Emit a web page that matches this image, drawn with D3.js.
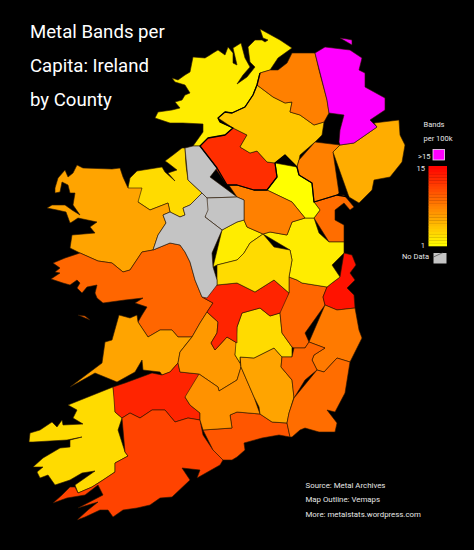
<!DOCTYPE html>
<html>
<head>
<meta charset="utf-8">
<title>Metal Bands per Capita: Ireland by County</title>
<script src="https://d3js.org/d3.v7.min.js"></script>
<style>
  html, body { margin: 0; padding: 0; background: #000; }
  svg { display: block; font-family: Roboto, sans-serif; }
</style>
</head>
<body>
<svg id="chart" width="474" height="550"></svg>
<script>
// Bands per 100k. null = no data, 16 stands for ">15"
const countyNames = ['Donegal', 'Sligo', 'Mayo', 'Galway', 'Clare', 'Kerry', 'Limerick', 'Cork', 'Waterford',
  'North Tipperary', 'South Tipperary', 'Kilkenny', 'Laois', 'Offaly', 'Kildare', 'Dublin', 'Wicklow', 'Carlow',
  'Wexford', 'Louth', 'Meath', 'Westmeath North', 'Westmeath', 'Monaghan', 'Cavan', 'Fermanagh', 'Tyrone', 'Derry',
  'Armagh', 'Down', 'Antrim', 'Leitrim', 'Longford', 'Roscommon'];
const bandsPer100k = [2, 3, 6, 9.4, 6, 3, 13, 11.3, 10.3,
  6.6, 7, 6, 3, 13, 9.4, 14, 8.3, 9.4,
  9, 9, 2, 2, 3, 1, 8, 12.5, 4, 8,
  8, 5.5, 16, null, null, null];

// Traced county outlines in map units, same order as countyNames. A county may have several rings (islands)
const countyOutlines = [
  [[[200,146],[193,146],[203,132],[203,124],[183,123],[170,123],[155,118],[158,112],[172,110],[180,108],[175,102],[182,100],[185,95],[190,93],[185,85],[175,82],[172,78],[178,80],[185,75],[190,72],[193,57],[205,58],[210,55],[213,53],[218,50],[225,55],[228,47],[233,53],[233,63],[237,65],[233,48],[241,43],[245,58],[250,67],[243,75],[237,84],[247,77],[255,67],[250,62],[248,47],[255,40],[262,40],[265,42],[268,40],[263,38],[260,29],[280,40],[292,48],[278,58],[270,70],[260,73],[257,85],[253,95],[245,107],[232,113],[225,112],[218,118],[220,122],[233,128],[225,135],[208,138]]],
  [[[128,188],[130,178],[137,171],[162,167],[165,172],[175,181],[168,173],[177,170],[168,163],[165,161],[173,155],[182,148],[185,148],[186,165],[188,180],[202,193],[193,202],[190,205],[183,208],[185,215],[180,217],[170,212],[168,203],[150,210],[138,202],[142,188]]],
  [[[77,165],[83,168],[112,169],[120,168],[123,177],[128,188],[142,188],[138,202],[150,210],[168,203],[170,212],[163,215],[166,223],[158,235],[153,250],[142,252],[130,270],[123,272],[112,263],[98,261],[80,253],[70,248],[72,235],[95,233],[90,227],[97,222],[78,218],[72,222],[70,223],[66,212],[57,210],[47,208],[52,205],[65,205],[72,210],[80,215],[73,205],[75,193],[70,193],[68,185],[62,182],[60,192],[55,193],[55,188],[58,178],[65,170],[68,177],[73,173],[72,168]]],
  [[[80,253],[98,261],[112,263],[123,272],[130,270],[142,252],[153,250],[170,243],[180,245],[185,252],[190,262],[195,280],[202,297],[213,303],[207,312],[200,323],[192,337],[178,337],[172,330],[160,330],[148,337],[138,322],[142,315],[147,307],[135,303],[143,298],[125,300],[103,303],[97,298],[95,293],[97,285],[87,287],[82,293],[77,288],[80,283],[77,280],[70,285],[63,283],[51,279],[60,273],[55,272],[60,268],[53,263],[65,258],[72,255]],
    [[78,315],[85,316],[90,320],[85,319]]],
  [[[119,315],[130,318],[137,315],[138,322],[148,337],[160,330],[172,330],[178,337],[192,337],[187,343],[180,352],[178,363],[170,372],[162,375],[160,372],[143,370],[142,360],[135,372],[117,382],[95,373],[88,377],[70,387],[102,363],[105,342],[112,340],[104,338]]],
  [[[113,387],[115,400],[115,412],[122,418],[118,430],[125,452],[128,456],[115,463],[115,472],[103,480],[92,487],[78,493],[75,485],[95,471],[82,473],[70,480],[55,485],[48,475],[40,478],[37,472],[43,467],[33,467],[43,458],[60,448],[70,447],[70,440],[82,437],[67,440],[33,442],[29,442],[30,433],[40,430],[52,422],[57,427],[62,420],[63,425],[83,424],[73,418],[77,410],[68,405],[88,397],[90,385]]],
  [[[113,387],[125,383],[152,373],[162,375],[170,372],[178,363],[180,372],[199,374],[197,392],[185,397],[190,405],[200,413],[200,420],[188,418],[175,422],[165,410],[152,410],[140,418],[130,413],[122,418],[115,412],[115,400]]],
  [[[122,418],[130,413],[140,418],[152,410],[165,410],[175,422],[188,418],[200,420],[203,435],[213,450],[223,460],[220,465],[197,478],[200,470],[182,468],[190,480],[172,497],[160,498],[150,505],[137,508],[123,510],[113,517],[108,510],[100,510],[85,517],[77,520],[88,510],[98,502],[78,508],[103,495],[98,485],[85,495],[67,498],[53,503],[62,495],[70,487],[75,487],[78,493],[92,487],[103,480],[115,472],[115,463],[128,456],[125,452],[118,430]]],
  [[[203,430],[232,428],[230,415],[237,412],[260,414],[272,422],[287,423],[290,437],[279,435],[262,438],[244,443],[245,450],[237,457],[232,460],[223,460],[213,450],[203,435]]],
  [[[192,337],[200,323],[207,312],[218,322],[217,333],[211,343],[215,350],[227,337],[237,343],[235,355],[240,363],[241,367],[237,380],[219,391],[218,387],[199,374],[180,372],[178,363],[180,352],[187,343]]],
  [[[199,374],[218,387],[219,391],[237,380],[241,367],[254,397],[260,414],[237,412],[230,415],[232,428],[203,430],[200,420],[200,413],[190,405],[185,397],[197,392]]],
  [[[240,357],[254,358],[274,348],[282,357],[281,367],[292,380],[294,397],[289,413],[287,423],[272,422],[260,414],[259,407],[254,397],[241,367],[240,363]]],
  [[[237,327],[242,313],[260,308],[270,316],[280,313],[282,333],[292,347],[292,357],[282,357],[274,348],[254,358],[240,357],[240,363],[235,355],[237,343]]],
  [[[217,285],[237,283],[255,292],[274,280],[289,293],[285,308],[280,313],[270,316],[260,308],[242,313],[237,327],[237,343],[227,337],[215,350],[211,343],[217,333],[218,322],[207,312],[213,303],[202,297],[207,298]]],
  [[[289,293],[289,277],[297,280],[302,283],[327,287],[323,297],[325,305],[305,333],[309,342],[305,348],[294,348],[292,347],[282,333],[280,313],[285,308]]],
  [[[344,253],[352,255],[356,265],[350,273],[355,280],[347,288],[354,295],[355,308],[337,310],[325,305],[323,297],[327,287],[332,283],[340,277],[332,265]]],
  [[[325,305],[337,310],[355,308],[359,330],[362,338],[350,362],[337,358],[324,372],[317,370],[312,360],[314,355],[325,348],[309,342],[305,333]]],
  [[[294,348],[305,348],[309,342],[325,348],[314,355],[312,360],[317,370],[305,380],[294,398],[292,380],[281,367],[282,357],[292,357],[292,347]]],
  [[[317,370],[324,372],[337,358],[350,362],[345,393],[335,412],[327,410],[337,423],[335,432],[319,432],[305,428],[300,430],[292,437],[290,437],[287,423],[289,413],[294,398],[305,380]]],
  [[[314,218],[320,210],[314,202],[337,195],[344,195],[354,207],[350,210],[344,203],[335,210],[335,220],[344,225],[344,242],[329,242],[319,233]]],
  [[[263,234],[270,232],[287,235],[292,222],[305,218],[314,218],[319,233],[329,242],[344,242],[344,253],[332,265],[340,277],[332,283],[327,287],[302,283],[297,280],[289,277],[292,260],[290,250],[274,247]]],
  [[[222,230],[237,222],[244,220],[247,227],[263,234],[250,243],[244,253],[237,260],[217,265],[213,267],[212,253]]],
  [[[217,265],[237,260],[244,253],[250,243],[263,234],[274,247],[290,250],[292,260],[289,277],[289,293],[274,280],[255,292],[237,283],[217,285],[217,280],[213,267]]],
  [[[275,163],[277,177],[267,190],[292,202],[305,218],[314,218],[320,210],[314,202],[312,183],[299,175],[297,167],[285,155]]],
  [[[217,168],[227,185],[237,185],[254,190],[267,190],[292,202],[305,218],[292,222],[287,235],[270,232],[263,234],[247,227],[244,220],[244,200],[237,197],[210,177]]],
  [[[200,146],[208,138],[225,135],[233,128],[247,135],[240,147],[250,153],[257,151],[267,162],[275,163],[277,177],[267,190],[254,190],[237,185],[227,185],[217,168]]],
  [[[218,118],[225,112],[232,113],[245,107],[253,95],[257,85],[273,97],[285,103],[292,102],[290,112],[300,115],[314,125],[324,122],[322,135],[317,140],[315,142],[300,155],[299,160],[297,167],[285,155],[275,163],[267,162],[257,151],[250,153],[240,147],[247,135],[233,128],[220,122]]],
  [[[292,53],[315,53],[319,70],[327,100],[329,113],[324,122],[314,125],[300,115],[290,112],[292,102],[285,103],[273,97],[257,85],[260,73],[270,70],[278,70],[287,63],[290,54]]],
  [[[315,142],[340,145],[333,152],[339,193],[337,195],[314,202],[312,183],[299,175],[297,167],[299,160],[300,155]]],
  [[[333,152],[340,145],[354,143],[377,127],[374,123],[399,120],[400,135],[405,145],[402,162],[390,177],[374,180],[372,190],[359,203],[349,197],[339,193]]],
  [[[315,53],[325,47],[350,50],[362,58],[359,70],[365,73],[365,87],[385,98],[385,110],[370,120],[377,127],[354,143],[340,145],[339,142],[340,130],[344,115],[329,113],[327,100],[319,70]],
    [[340,38],[347,39],[352,40],[352,45],[346,42]]],
  [[[185,148],[193,146],[200,146],[217,168],[210,177],[237,197],[207,198],[202,193],[188,180],[186,165]]],
  [[[207,198],[237,197],[244,200],[244,220],[237,222],[222,230],[205,217],[208,210]]],
  [[[202,193],[207,198],[208,210],[205,217],[222,230],[212,253],[213,267],[217,280],[217,285],[207,298],[202,297],[195,280],[190,262],[185,252],[180,245],[170,243],[153,250],[158,235],[166,223],[163,215],[170,212],[180,217],[185,215],[183,208],[190,205],[193,202]]]
];

// The heavier line where the Republic meets Northern Ireland
const borderLine = [[260,73],[257,85],[253,95],[245,107],[232,113],[225,112],[218,118],[220,122],[233,128],[225,135],[208,138],[200,146],[217,168],[227,185],[237,185],[254,190],[267,190],[277,177],[275,163],[285,155],[297,167],[299,175],[312,183],[314,202],[337,195],[349,197]];

const titleLines = ['Metal Bands per', 'Capita: Ireland', 'by County'];
const creditLines = ['Source: Metal Archives', 'Map Outline: Vemaps', 'More: metalstats.wordpress.com'];
const legendTitle = ['Bands', 'per 100k'];
const legendTicks = [1, 15];

const noDataColor = '#c4c4c4';
const overColor = '#ff00ff';

const svg = d3.select('#chart');

const colorScale = d3.scaleLinear()
  .domain([1, 15])
  .range(['#ffff00', '#ff0000'])
  .clamp(true);

function fillFor(v) {
  if (v === null) return noDataColor;
  return v > 15 ? overColor : colorScale(v);
}

const counties = {
  type: 'FeatureCollection',
  features: countyNames.map((name, i) => ({
    type: 'Feature',
    properties: { name: name, value: bandsPer100k[i] },
    geometry: { type: 'Polygon', coordinates: countyOutlines[i] }
  }))
};

const path = d3.geoPath(d3.geoIdentity());

// Counties
svg.append('g')
  .selectAll('path')
  .data(counties.features)
  .join('path')
  .attr('d', path)
  .attr('fill', d => fillFor(d.properties.value))
  .attr('stroke', '#2a1500')
  .attr('stroke-width', 0.6)
  .attr('stroke-linejoin', 'round');

svg.append('path')
  .datum({ type: 'LineString', coordinates: borderLine })
  .attr('d', path)
  .attr('fill', 'none')
  .attr('stroke', '#000')
  .attr('stroke-width', 1.3)
  .attr('stroke-linejoin', 'round');

// Title and credits
svg.append('g')
  .selectAll('text')
  .data(titleLines)
  .join('text')
  .attr('x', 30)
  .attr('y', (d, i) => 38 + i * 34)
  .attr('fill', '#fff')
  .attr('font-size', 18.6)
  .text(d => d);

svg.append('g')
  .selectAll('text')
  .data(creditLines)
  .join('text')
  .attr('x', 305.5)
  .attr('y', (d, i) => 488 + i * 14.4)
  .attr('fill', '#e6e6e6')
  .attr('font-size', 7.85)
  .text(d => d);

// Legend
const legend = svg.append('g').attr('font-size', 7.5).attr('fill', '#e6e6e6');

legend.selectAll('text.head')
  .data(legendTitle)
  .join('text')
  .attr('class', 'head')
  .attr('x', 423.5)
  .attr('y', (d, i) => 127 + i * 14)
  .text(d => d);

legend.append('text').attr('x', 418).attr('y', 159).text('>15');
legend.append('rect')
  .attr('x', 433).attr('y', 149.5).attr('width', 11.5).attr('height', 10.5)
  .attr('fill', overColor).attr('stroke', '#f4dcf4').attr('stroke-width', 0.8);

const barY = d3.scaleLinear().domain([1, 15]).range([246, 166]);
const barSteps = d3.range(1, 15, 0.5);

legend.selectAll('rect.step')
  .data(barSteps)
  .join('rect')
  .attr('class', 'step')
  .attr('x', 428.5)
  .attr('width', 18.5)
  .attr('y', d => barY(d + 0.5))
  .attr('height', d => barY(d) - barY(d + 0.5) + 0.3)
  .attr('fill', d => colorScale(d + 0.25));

legend.selectAll('text.tick')
  .data(legendTicks)
  .join('text')
  .attr('class', 'tick')
  .attr('x', 425)
  .attr('y', d => barY(d) + (d === 1 ? 2 : 5))
  .attr('text-anchor', 'end')
  .text(d => d);

legend.append('text').attr('x', 402).attr('y', 259).text('No Data');
legend.append('rect')
  .attr('x', 433.5).attr('y', 253).attr('width', 13).attr('height', 10.5)
  .attr('fill', noDataColor);
legend.append('line')
  .attr('x1', 433.5).attr('y1', 257).attr('x2', 443).attr('y2', 252.5)
  .attr('stroke', '#333').attr('stroke-width', 0.6);
</script>
</body>
</html>
